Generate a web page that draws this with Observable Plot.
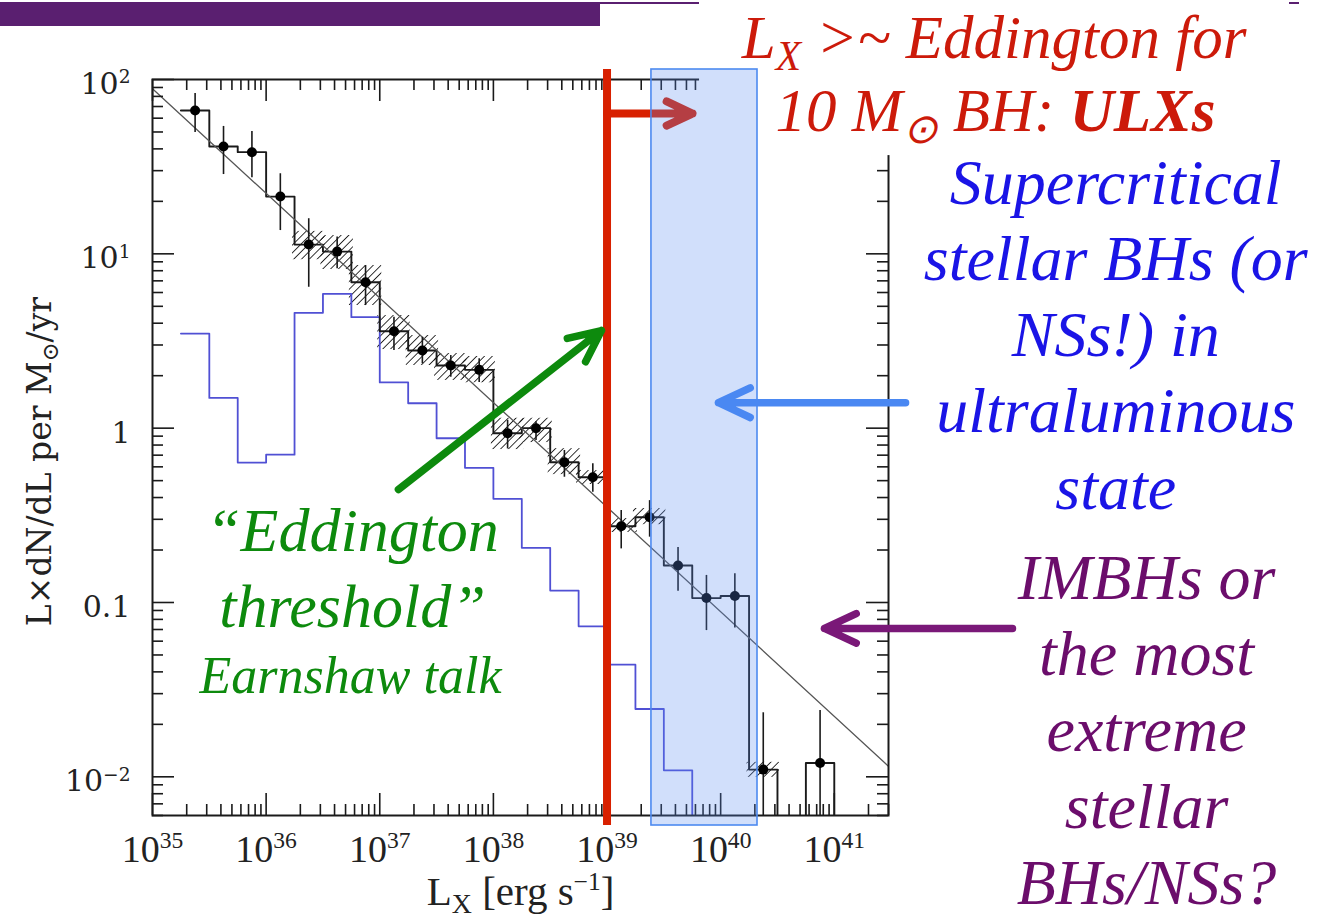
<!DOCTYPE html>
<html>
<head>
<meta charset="utf-8">
<script src="https://cdn.jsdelivr.net/npm/d3@7"></script>
<script src="https://cdn.jsdelivr.net/npm/@observablehq/plot@0.6"></script>
<style>
  html, body { margin: 0; padding: 0; background: #fff; }
  #slide { position: relative; width: 1321px; height: 919px; overflow: hidden; }
  #slide svg { position: absolute; left: 0; top: 0; }
  .band { position: absolute; background: #5a1f70; z-index: 2; }
</style>
</head>
<body>
<div id="slide">
  <div class="band" style="left:0;top:2px;width:600px;height:24px"></div>
  <div class="band" style="left:600px;top:2px;width:99px;height:2px"></div>
  <div class="band" style="left:1289px;top:2px;width:10px;height:2px"></div>
</div>
<script>
// ---------- scales ----------
const X_DOMAIN = [1e35, 3e41];     // L_X, erg/s
const Y_DOMAIN = [6e-3, 100];      // L×dN/dL per M⊙/yr
const FLOOR = 1e-3;                // empty bins drop below the frame (clipped)

// ---------- data ----------
// 0.25-dex luminosity bins: log10 of each bin's lower edge
const binLog = [35.25, 35.5, 35.75, 36.0, 36.25, 36.5, 36.75, 37.0, 37.25, 37.5, 37.75, 38.0,
                38.25, 38.5, 38.75, 39.0, 39.25, 39.5, 39.75, 40.0, 40.25, 40.5, 40.75];
const BIN_DEX = 0.25;

// combined luminosity function (0 = empty bin)
const rate   = [66.4, 41.3, 38.3, 21.3, 11.3, 10.3, 6.87, 3.60, 2.79, 2.29, 2.16, 0.935,
                1.00, 0.637, 0.523, 0.274, 0.308, 0.163, 0.106, 0.109, 0.011, 0, 0.012];
const rateHi = [83.0, 53.8, 50.4, 28.8, 15.9, 12.5, 8.57, 4.33, 3.32, 2.61, 2.50, 1.11,
                1.09, 0.745, 0.624, 0.337, 0.384, 0.207, 0.143, 0.146, 0.0233, null, 0.024];
const rateLo = [49.6, 28.5, 27.3, 13.6, 6.43, 8.20, 5.05, 2.79, 2.34, 1.96, 1.83, 0.76,
                0.85, 0.523, 0.429, 0.203, 0.237, 0.116, 0.069, 0.0715, 0, null, 0];
// hatched uncertainty band
const bandHi = [null, null, null, null, 13.1, 12.4, 8.35, 4.31, 3.31, 2.61, 2.51, 1.11,
                1.11, 0.743, 0.556, 0.295, 0.337, null, null, null, 0.0118, null, null];
const bandLo = [null, null, null, null, 9.5, 8.35, 5.19, 2.90, 2.35, 1.93, 1.87, 0.774,
                0.849, 0.556, 0.488, 0.259, 0.287, null, null, null, 0.0102, null, null];

// sub-sample histogram (blue)
const subsetLog  = [35.25, 35.5, 35.75, 36.0, 36.25, 36.5, 36.75, 37.0, 37.25, 37.5,
                    37.75, 38.0, 38.25, 38.5, 38.75, 39.0, 39.25, 39.5, 39.75];
const subsetRate = [3.49, 1.49, 0.635, 0.705, 4.59, 5.89, 4.33, 1.83, 1.39, 0.875,
                    0.592, 0.393, 0.206, 0.117, 0.073, 0.044, 0.0245, 0.0109, 0];

// power-law fit (slope −0.6), end points
const fitL    = [1e35, 3e41];
const fitRate = [88.5, 0.0115];

// axis labels
const xTickValues = [1e35, 1e36, 1e37, 1e38, 1e39, 1e40, 1e41];
const xTickLabels = ["10^{35}", "10^{36}", "10^{37}", "10^{38}", "10^{39}", "10^{40}", "10^{41}"];
const yTickValues = [100, 10, 1, 0.1, 0.01];
const yTickLabels = ["10^{2}", "10^{1}", "1", "0.1", "10^{−2}"];
const xTitle = "L_{X} [erg s^{−1}]";
const yTitle = "L×dN/dL per M_{⊙}/yr";

// annotations
const eddingtonL = 1e39;              // Eddington limit of a 10 M⊙ black hole
const ulxBand = [2.46e39, 2.11e40];   // ultraluminous-state window
const titleBox = {x1: 6.52e39, x2: 1.04e45, y1: 36.6, y2: 284};

const RED = "#cc1a0a", BLUE = "#1a14e6", PURPLE = "#6b0d6b", GREEN = "#0d8a0d";

const redArrow = [{x1: 1e39, y1: 63.8, x2: 5.65e39, y2: 63.8}];
const otherArrows = [
  {x1: 1.46e37, y1: 0.445, x2: 8.93e38, y2: 3.63, color: GREEN},
  {x1: 4.24e41, y1: 1.40, x2: 9.57e39, y2: 1.40, color: "#4a88f2"},
  {x1: 3.7e42, y1: 0.0710, x2: 8.2e40, y2: 0.0710, color: "#7a1878"}
];

const notes = [
  {text: "L_{X} >~ Eddington for", L: 2.55e42, v: 133, color: RED, size: 61, lh: 1},
  {text: "10 M_{⊙} BH: *{ULXs}", L: 2.62e42, v: 50.5, color: RED, size: 61, lh: 1},
  {text: "Supercritical\nstellar BHs (or\nNSs!) in\nultraluminous\nstate", L: 3e43, v: 0.346, color: BLUE, size: 64, lh: 1.19},
  {text: "IMBHs or\nthe most\nextreme\nstellar\nBHs/NSs?", L: 5.6e43, v: 1.87e-3, color: PURPLE, size: 64, lh: 1.19},
  {text: "“Eddington\nthreshold”", L: 5.75e36, v: 0.0719, color: GREEN, size: 62, lh: 1.24},
  {text: "Earnshaw talk", L: 5.53e36, v: 0.0301, color: GREEN, size: 52, lh: 1}
];

// ---------- derived rows ----------
const floorV = v => (v > 0 ? v : FLOOR);
const bins = binLog.map((e, i) => ({
  lo: 10 ** e, hi: 10 ** (e + BIN_DEX), mid: 10 ** (e + BIN_DEX / 2),
  v: rate[i], eLo: rateLo[i], eHi: rateHi[i], bLo: bandLo[i], bHi: bandHi[i]
}));
const blackSteps = [...bins.map(b => ({x: b.lo, y: floorV(b.v)})), {x: bins[bins.length - 1].hi, y: FLOOR}];
const blueSteps = subsetLog.map((e, i) => ({x: 10 ** e, y: floorV(subsetRate[i])}));
const fit = fitL.map((x, i) => ({x, y: fitRate[i]}));

const isMajor = v => Math.abs(Math.log10(v) - Math.round(Math.log10(v))) < 1e-9;
const xTicks = d3.scaleLog().domain(X_DOMAIN).ticks();
const yTicks = d3.scaleLog().domain(Y_DOMAIN).ticks();
const xMajor = xTicks.filter(isMajor), xMinor = xTicks.filter(v => !isMajor(v));
const yMajor = yTicks.filter(isMajor), yMinor = yTicks.filter(v => !isMajor(v));

const W = 736, H = 736, MAJ = 22, MIN = 11;
const INK = "#1a1a1a";
const SERIF = "Liberation Serif, Times New Roman, serif";
const tickStyle = {stroke: INK, strokeWidth: 1.6};

const plot = Plot.plot({
  width: 1321, height: 919,
  marginLeft: 152, marginRight: 433, marginTop: 79, marginBottom: 104,
  x: {type: "log", domain: X_DOMAIN, axis: null},
  y: {type: "log", domain: Y_DOMAIN, axis: null},
  marks: [
    // data
    Plot.rect(bins.filter(b => b.bHi != null), {x1: "lo", x2: "hi", y1: "bLo", y2: "bHi", fill: "url(#hatch)", inset: -2}),
    Plot.line(blueSteps, {x: "x", y: "y", curve: "step-after", stroke: "#5050d4", strokeWidth: 1.8, clip: true}),
    Plot.line(blackSteps, {x: "x", y: "y", curve: "step-after", stroke: INK, strokeWidth: 1.9, clip: true}),
    Plot.line(fit, {x: "x", y: "y", stroke: "#555", strokeWidth: 1.3, clip: true}),
    Plot.ruleX(bins.filter(b => b.eHi != null), {x: "mid", y1: d => floorV(d.eLo), y2: "eHi", stroke: INK, strokeWidth: 1.6, clip: true}),
    Plot.dot(bins.filter(b => b.v > 0), {x: "mid", y: "v", r: 5, fill: "#000", stroke: null}),

    // axes: mirrored inward ticks
    Plot.tickX(xMajor, {x: d => d, insetTop: H - MAJ, ...tickStyle}),
    Plot.tickX(xMinor, {x: d => d, insetTop: H - MIN, ...tickStyle}),
    Plot.tickX(xMajor, {x: d => d, insetBottom: H - MAJ, ...tickStyle}),
    Plot.tickX(xMinor, {x: d => d, insetBottom: H - MIN, ...tickStyle}),
    Plot.tickY(yMajor, {y: d => d, insetRight: W - MAJ, ...tickStyle}),
    Plot.tickY(yMinor, {y: d => d, insetRight: W - MIN, ...tickStyle}),
    Plot.tickY(yMajor, {y: d => d, insetLeft: W - MAJ, ...tickStyle}),
    Plot.tickY(yMinor, {y: d => d, insetLeft: W - MIN, ...tickStyle}),
    Plot.frame({stroke: INK, strokeWidth: 2}),
    Plot.text(xTickValues, {x: d => d, text: (d, i) => xTickLabels[i], frameAnchor: "bottom", lineAnchor: "bottom",
      dy: 46, fontSize: 38, fontFamily: SERIF, fill: "#222"}),
    Plot.text(yTickValues, {y: d => d, text: (d, i) => yTickLabels[i], frameAnchor: "left", textAnchor: "end",
      dx: -22, dy: 5, fontSize: 30, fontFamily: "DejaVu Serif, serif", fill: "#222"}),
    Plot.text([xTitle], {frameAnchor: "bottom", textAnchor: "middle", lineAnchor: "bottom", dy: 89,
      fontSize: 41, fontFamily: SERIF, fill: "#222"}),
    Plot.text([yTitle], {frameAnchor: "left", textAnchor: "middle", rotate: -90, dx: -112, dy: 14,
      fontSize: 33, fontFamily: "DejaVu Serif, serif", fill: "#222"}),

    // title box and annotation overlays
    Plot.rect([titleBox], {x1: "x1", x2: "x2", y1: "y1", y2: "y2", fill: "white"}),
    Plot.ruleX([eddingtonL], {x: d => d, insetTop: -10, insetBottom: -10, stroke: "#d82000", strokeWidth: 8}),
    Plot.arrow(redArrow, {x1: "x1", y1: "y1", x2: "x2", y2: "y2", stroke: "#d82000", strokeWidth: 8,
      headLength: 7, headAngle: 50, strokeLinecap: "round", strokeLinejoin: "round"}),
    Plot.rect([ulxBand], {x1: d => d[0], x2: d => d[1], insetTop: -10, insetBottom: -10,
      fill: "#5b8def", fillOpacity: 0.28, stroke: "#4d8af0", strokeWidth: 1.6}),
    Plot.arrow(otherArrows, {x1: "x1", y1: "y1", x2: "x2", y2: "y2", stroke: d => d.color, strokeWidth: 7.5,
      headLength: 7, headAngle: 50, strokeLinecap: "round", strokeLinejoin: "round"}),
    ...notes.map(n => Plot.text([n], {x: "L", y: "v", text: "text", lineAnchor: "bottom", lineHeight: n.lh,
      fill: n.color, fontSize: n.size, fontFamily: SERIF, fontStyle: "italic"}))
  ]
});
plot.style.background = "transparent";
document.getElementById("slide").appendChild(plot);

// hatch pattern for the uncertainty band
const NS = "http://www.w3.org/2000/svg";
const defs = document.createElementNS(NS, "defs");
defs.innerHTML = '<pattern id="hatch" patternUnits="userSpaceOnUse" width="5.5" height="5.5" patternTransform="rotate(45)">' +
  '<line x1="0" y1="0" x2="0" y2="5.5" stroke="#111" stroke-width="1.7"/></pattern>';
plot.insertBefore(defs, plot.firstChild);

// ^{..} superscript, _{..} subscript, *{..} bold inside single-line labels
function applyRichText(svg) {
  svg.querySelectorAll("text").forEach(t => {
    if (t.querySelector("tspan")) return;
    const src = t.textContent;
    if (!/[\^_*]\{/.test(src)) return;
    const fs = parseFloat(getComputedStyle(t).fontSize);
    t.textContent = "";
    t.style.whiteSpace = "pre";
    let shift = 0;
    const put = (str, kind) => {
      if (!str) return;
      const s = document.createElementNS(NS, "tspan");
      let target = 0;
      if (kind === "^") { target = -0.36 * fs; s.setAttribute("font-size", 0.62 * fs); }
      else if (kind === "_") { target = 0.2 * fs; s.setAttribute("font-size", 0.68 * fs); }
      else if (kind === "*") s.setAttribute("font-weight", "bold");
      if (target !== shift) { s.setAttribute("dy", target - shift); shift = target; }
      s.textContent = str;
      t.appendChild(s);
    };
    const re = /([\^_*])\{([^}]*)\}/g;
    let last = 0, m;
    while ((m = re.exec(src))) { put(src.slice(last, m.index), ""); put(m[2], m[1]); last = re.lastIndex; }
    put(src.slice(last), "");
  });
}
applyRichText(plot);
</script>
</body>
</html>
